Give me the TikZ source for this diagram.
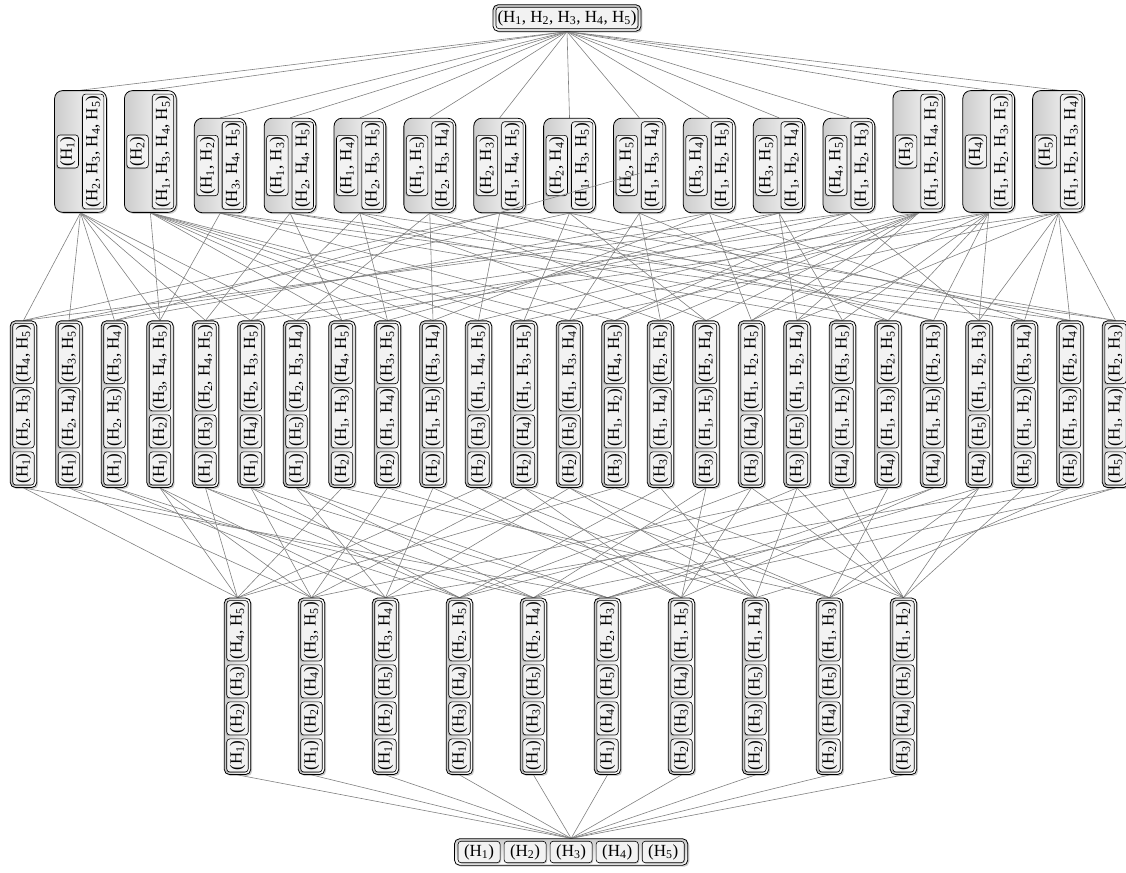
\documentclass[tikz,border=0pt]{standalone}
\usepackage{fontspec}
\setmainfont{Liberation Serif}
\usetikzlibrary{fit,shadows}
\pgfdeclarelayer{edgelayer}
\pgfdeclarelayer{boxlayer}
\pgfsetlayers{edgelayer,boxlayer,main}
\newcommand\HH[1]{H\textsubscript{#1}}
\newcommand\pa[1]{(\HH{#1})}
\newcommand\pb[2]{(\HH{#1}, \HH{#2})}
\newcommand\pc[3]{(\HH{#1}, \HH{#2}, \HH{#3})}
\newcommand\pd[4]{(\HH{#1}, \HH{#2}, \HH{#3}, \HH{#4})}
\tikzset{
  blkbase/.style={draw=black, line width=0.6pt, rounded corners=3pt, fill=black!5,
    inner xsep=1.5pt, inner ysep=3pt, outer xsep=2pt, outer ysep=0pt,
    font=\fontsize{17}{20}\selectfont},
  rblk/.style={blkbase, drop shadow={shadow xshift=-1pt, shadow yshift=-1pt, opacity=0.45}},
  hblk/.style={blkbase, drop shadow={shadow xshift=1pt, shadow yshift=-1pt, opacity=0.45}},
  wideblk/.style={hblk, inner xsep=6pt},
  vbox/.style={draw=black, line width=0.8pt, rounded corners=5pt, left color=black!20,
    right color=white, inner xsep=2.5pt, inner ysep=0.5pt,
    drop shadow={shadow xshift=1.5pt, shadow yshift=-1.5pt, opacity=0.4}},
  vbigbox/.style={vbox, rounded corners=8pt, inner xsep=2.5pt, inner ysep=1.5pt},
  hbox/.style={draw=black, line width=0.8pt, rounded corners=5pt, top color=black!20,
    bottom color=white, inner xsep=1pt, inner ysep=2.5pt,
    drop shadow={shadow xshift=1.5pt, shadow yshift=-1.5pt, opacity=0.4}},
  lnk/.style={draw=black!50, line width=0.6pt}
}
% level 2: name, x, y-centre, short block, long block
\newcommand\Ltwo[5]{%
  \begin{scope}[shift={({#2},{#3})},rotate=90,transform shape]
    \node[rblk,anchor=south] (#1-s) at (0,2) {#4};
    \node[rblk,anchor=north] (#1-l) at (0,-2) {#5};
  \end{scope}
  \begin{pgfonlayer}{boxlayer}\node[vbigbox,fit=(#1-s)(#1-l)] (#1) {};\end{pgfonlayer}}
% level 3: name, x, three blocks (bottom to top)
\newcommand\Lthree[5]{%
  \begin{scope}[shift={({#2},385)},rotate=90,transform shape]
    \node[rblk,anchor=west] (#1-1) at (0,0) {#3};
    \node[rblk,anchor=west] (#1-2) at (#1-1.east) {#4};
    \node[rblk,anchor=west] (#1-3) at (#1-2.east) {#5};
  \end{scope}
  \begin{pgfonlayer}{boxlayer}\node[vbox,fit=(#1-1)(#1-3)] (#1) {};\end{pgfonlayer}}
% level 4: name, x, four blocks (bottom to top)
\newcommand\Lfour[6]{%
  \begin{scope}[shift={({#2},98)},rotate=90,transform shape]
    \node[rblk,anchor=west] (#1-1) at (0,0) {#3};
    \node[rblk,anchor=west] (#1-2) at (#1-1.east) {#4};
    \node[rblk,anchor=west] (#1-3) at (#1-2.east) {#5};
    \node[rblk,anchor=west] (#1-4) at (#1-3.east) {#6};
  \end{scope}
  \begin{pgfonlayer}{boxlayer}\node[vbox,fit=(#1-1)(#1-4)] (#1) {};\end{pgfonlayer}}
\begin{document}
\begin{tikzpicture}[x=1pt,y=1pt]
\useasboundingbox (0,0) rectangle (1126,872);
% top
\node[hblk] (top-1) at (567,854) {(\HH1, \HH2, \HH3, \HH4, \HH5)};
\begin{pgfonlayer}{boxlayer}\node[hbox,fit=(top-1)] (top) {};\end{pgfonlayer}
% level 2
\Ltwo{a1}{80.5+69.86*0}{720.5}{\pa1}{\pd2345}
\Ltwo{a2}{80.5+69.86*1}{720.5}{\pa2}{\pd1345}
\Ltwo{a3}{80.5+69.86*2}{706.5}{\pb12}{\pc345}
\Ltwo{a4}{80.5+69.86*3}{706.5}{\pb13}{\pc245}
\Ltwo{a5}{80.5+69.86*4}{706.5}{\pb14}{\pc235}
\Ltwo{a6}{80.5+69.86*5}{706.5}{\pb15}{\pc234}
\Ltwo{a7}{80.5+69.86*6}{706.5}{\pb23}{\pc145}
\Ltwo{a8}{80.5+69.86*7}{706.5}{\pb24}{\pc135}
\Ltwo{a9}{80.5+69.86*8}{706.5}{\pb25}{\pc134}
\Ltwo{a10}{80.5+69.86*9}{706.5}{\pb34}{\pc125}
\Ltwo{a11}{80.5+69.86*10}{706.5}{\pb35}{\pc124}
\Ltwo{a12}{80.5+69.86*11}{706.5}{\pb45}{\pc123}
\Ltwo{a13}{80.5+69.86*12}{720.5}{\pa3}{\pd1245}
\Ltwo{a14}{80.5+69.86*13}{720.5}{\pa4}{\pd1235}
\Ltwo{a15}{80.5+69.86*14}{720.5}{\pa5}{\pd1234}
% level 3
\Lthree{b1}{23.5+45.5*0}{\pa1}{\pb23}{\pb45}
\Lthree{b2}{23.5+45.5*1}{\pa1}{\pb24}{\pb35}
\Lthree{b3}{23.5+45.5*2}{\pa1}{\pb25}{\pb34}
\Lthree{b4}{23.5+45.5*3}{\pa1}{\pa2}{\pc345}
\Lthree{b5}{23.5+45.5*4}{\pa1}{\pa3}{\pc245}
\Lthree{b6}{23.5+45.5*5}{\pa1}{\pa4}{\pc235}
\Lthree{b7}{23.5+45.5*6}{\pa1}{\pa5}{\pc234}
\Lthree{b8}{23.5+45.5*7}{\pa2}{\pb13}{\pb45}
\Lthree{b9}{23.5+45.5*8}{\pa2}{\pb14}{\pb35}
\Lthree{b10}{23.5+45.5*9}{\pa2}{\pb15}{\pb34}
\Lthree{b11}{23.5+45.5*10}{\pa2}{\pa3}{\pc145}
\Lthree{b12}{23.5+45.5*11}{\pa2}{\pa4}{\pc135}
\Lthree{b13}{23.5+45.5*12}{\pa2}{\pa5}{\pc134}
\Lthree{b14}{23.5+45.5*13}{\pa3}{\pb12}{\pb45}
\Lthree{b15}{23.5+45.5*14}{\pa3}{\pb14}{\pb25}
\Lthree{b16}{23.5+45.5*15}{\pa3}{\pb15}{\pb24}
\Lthree{b17}{23.5+45.5*16}{\pa3}{\pa4}{\pc125}
\Lthree{b18}{23.5+45.5*17}{\pa3}{\pa5}{\pc124}
\Lthree{b19}{23.5+45.5*18}{\pa4}{\pb12}{\pb35}
\Lthree{b20}{23.5+45.5*19}{\pa4}{\pb13}{\pb25}
\Lthree{b21}{23.5+45.5*20}{\pa4}{\pb15}{\pb23}
\Lthree{b22}{23.5+45.5*21}{\pa4}{\pa5}{\pc123}
\Lthree{b23}{23.5+45.5*22}{\pa5}{\pb12}{\pb34}
\Lthree{b24}{23.5+45.5*23}{\pa5}{\pb13}{\pb24}
\Lthree{b25}{23.5+45.5*24}{\pa5}{\pb14}{\pb23}
% level 4
\Lfour{c1}{237.5+74*0}{\pa1}{\pa2}{\pa3}{\pb45}
\Lfour{c2}{237.5+74*1}{\pa1}{\pa2}{\pa4}{\pb35}
\Lfour{c3}{237.5+74*2}{\pa1}{\pa2}{\pa5}{\pb34}
\Lfour{c4}{237.5+74*3}{\pa1}{\pa3}{\pa4}{\pb25}
\Lfour{c5}{237.5+74*4}{\pa1}{\pa3}{\pa5}{\pb24}
\Lfour{c6}{237.5+74*5}{\pa1}{\pa4}{\pa5}{\pb23}
\Lfour{c7}{237.5+74*6}{\pa2}{\pa3}{\pa4}{\pb15}
\Lfour{c8}{237.5+74*7}{\pa2}{\pa3}{\pa5}{\pb14}
\Lfour{c9}{237.5+74*8}{\pa2}{\pa4}{\pa5}{\pb13}
\Lfour{c10}{237.5+74*9}{\pa3}{\pa4}{\pa5}{\pb12}
% bottom
\node[wideblk,anchor=west] (bot-1) at (456,20) {\pa1};
\node[wideblk,anchor=west] (bot-2) at (bot-1.east) {\pa2};
\node[wideblk,anchor=west] (bot-3) at (bot-2.east) {\pa3};
\node[wideblk,anchor=west] (bot-4) at (bot-3.east) {\pa4};
\node[wideblk,anchor=west] (bot-5) at (bot-4.east) {\pa5};
\begin{pgfonlayer}{boxlayer}\node[hbox,inner xsep=1.5pt,fit=(bot-1)(bot-5)] (bot) {};\end{pgfonlayer}
% connectors
\begin{pgfonlayer}{edgelayer}
\foreach \i in {1,...,15} \draw[lnk] (top.south) -- (a\i.north);
\foreach \j/\l in {1/{1,7,12},2/{1,8,11},3/{1,10},4/{1,2,3},5/{1,4,13},6/{1,5,14},
  7/{1,6,15},8/{2,4,12},9/{2,5,11},10/{2,6,10},11/{2,7,13},12/{2,8,14},13/{2,9,15},
  14/{3,12,13},15/{5,9,13},16/{6,8,13},17/{10,13,14},18/{11,13,15},19/{3,11,14},
  20/{4,9,14},21/{6,7,14},22/{12,14,15},23/{3,10,15},24/{4,8,15},25/{5,7,15}}
  {\foreach \i in \l {\draw[lnk] (a\i.south) -- (b\j.north);}}
\foreach \k/\l in {1/{1,4,5,8,11,14},2/{2,4,6,9,12,19},3/{3,4,7,10,13,23},
  4/{3,5,6,15,17,20},5/{2,5,7,16,18,24},6/{1,6,7,21,22,25},7/{10,11,12,16,17,21},
  8/{9,11,13,15,18,25},9/{8,12,13,20,22,24},10/{14,17,18,19,22,23}}
  {\foreach \j in \l {\draw[lnk] (b\j.south) -- (c\k.north);}}
\foreach \k in {1,...,10} \draw[lnk] (c\k.south) -- (bot.north);
\end{pgfonlayer}
\coordinate (a9in) at ([yshift=-8pt]a9.center);
\draw[lnk] (b3.north) -- (a9in);
\end{tikzpicture}
\end{document}
